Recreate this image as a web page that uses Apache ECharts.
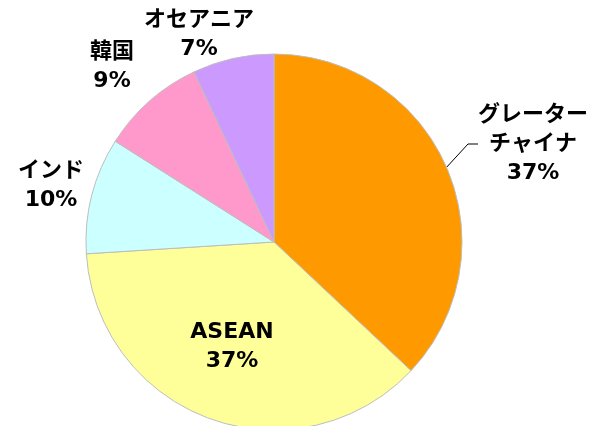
<!DOCTYPE html>
<html><head><meta charset="utf-8">
<script src="https://cdn.jsdelivr.net/npm/echarts@6/dist/echarts.min.js"></script>
<style>html,body{margin:0;padding:0;background:#fff}#c{width:594px;height:426px}</style>
</head><body><div id="c"></div>
<script>
const categories = ['グレーター\nチャイナ', 'ASEAN', 'インド', '韓国', 'オセアニア'];
const values = [37, 37, 10, 9, 7];
const colors = ['#FF9900', '#FFFF99', '#CCFFFF', '#FF99CC', '#CC99FF'];
const labelPos = [[533, 144], [232, 347], [51, 186], [112, 67], [199, 35]];

const chart = echarts.init(document.getElementById('c'), null, {renderer: 'canvas'});
chart.setOption({
  animation: false,
  series: [{
    type: 'pie',
    center: [274, 242],
    radius: 188,
    startAngle: 90,
    clockwise: true,
    data: categories.map((n, i) => ({
      name: n, value: values[i],
      itemStyle: {color: colors[i]},
      labelLine: {show: i === 0}
    })),
    itemStyle: {borderColor: '#BDBDBD', borderWidth: 1},
    label: {
      show: true,
      position: 'outside',
      formatter: '{b}\n{d}%',
      color: '#000',
      fontSize: 22,
      fontWeight: 'bold',
      fontFamily: '"DejaVu Sans", "Noto Sans CJK JP", sans-serif',
      lineHeight: 29,
      align: 'center',
      overflow: 'none'
    },
    labelLine: {lineStyle: {color: '#000', width: 1}, length: 10, length2: 10},
    labelLayout: function (p) {
      const pos = labelPos[p.dataIndex];
      return {x: pos[0], y: pos[1], align: 'center', verticalAlign: 'middle'};
    }
  }]
});
</script></body></html>
